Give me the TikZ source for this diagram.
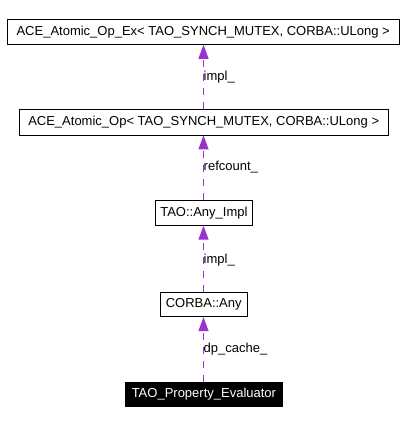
\documentclass[tikz,border=0pt]{standalone}
\usepackage{fontspec}
\setmainfont{Liberation Sans}
\usetikzlibrary{arrows.meta}
\definecolor{edgepurple}{HTML}{9A32CD}
\tikzset{
  x=1pt,y=-1pt,
  cls/.style={draw=black,line width=0.9pt,fill=white,inner sep=0pt,font=\fontsize{13}{15}\selectfont,anchor=center},
  focus/.style={fill=black,text=white,inner sep=0pt,font=\fontsize{13}{15}\selectfont,anchor=center},
  usage/.style={draw=edgepurple,color=edgepurple,line width=1.2pt,dash pattern=on 7pt off 7pt,-{Triangle[length=14pt,width=10pt,fill=edgepurple]}},
  elabel/.style={anchor=west,inner sep=0pt,font=\fontsize{13}{15}\selectfont}
}
\begin{document}
\begin{tikzpicture}
\useasboundingbox (0,0) rectangle (406,424);
\node[cls,minimum width=392pt,minimum height=25pt] (b1) at (203.2,31.8) {ACE\_Atomic\_Op\_Ex< TAO\_SYNCH\_MUTEX, CORBA::ULong >};
\node[cls,minimum width=369pt,minimum height=25.5pt] (b2) at (203.7,122.2) {ACE\_Atomic\_Op< TAO\_SYNCH\_MUTEX, CORBA::ULong >};
\node[cls,minimum width=97.5pt,minimum height=24.5pt] (b3) at (203.9,213) {TAO::Any\_Impl};
\node[cls,minimum width=87.3pt,minimum height=24pt] (b4) at (203.7,304.7) {CORBA::Any};
\node[focus,minimum width=157.7pt,minimum height=24.4pt] (b5) at (203.9,394.5) {TAO\_Property\_Evaluator};
\draw[usage] (b2.north -| 203.5,0) -- (b1.south -| 203.5,0);
\draw[usage] (b3.north -| 203.5,0) -- (b2.south -| 203.5,0);
\draw[usage] (b4.north -| 203.5,0) -- (b3.south -| 203.5,0);
\draw[usage] (b5.north -| 203.5,0) -- (b4.south -| 203.5,0);
\node[elabel] (l1) at (203.5,77.3) {impl\_};
\node[elabel] (l2) at (203.5,167.5) {refcount\_};
\node[elabel] (l3) at (203.5,260) {impl\_};
\node[elabel] (l4) at (203.5,349.5) {dp\_cache\_};
\end{tikzpicture}
\end{document}
